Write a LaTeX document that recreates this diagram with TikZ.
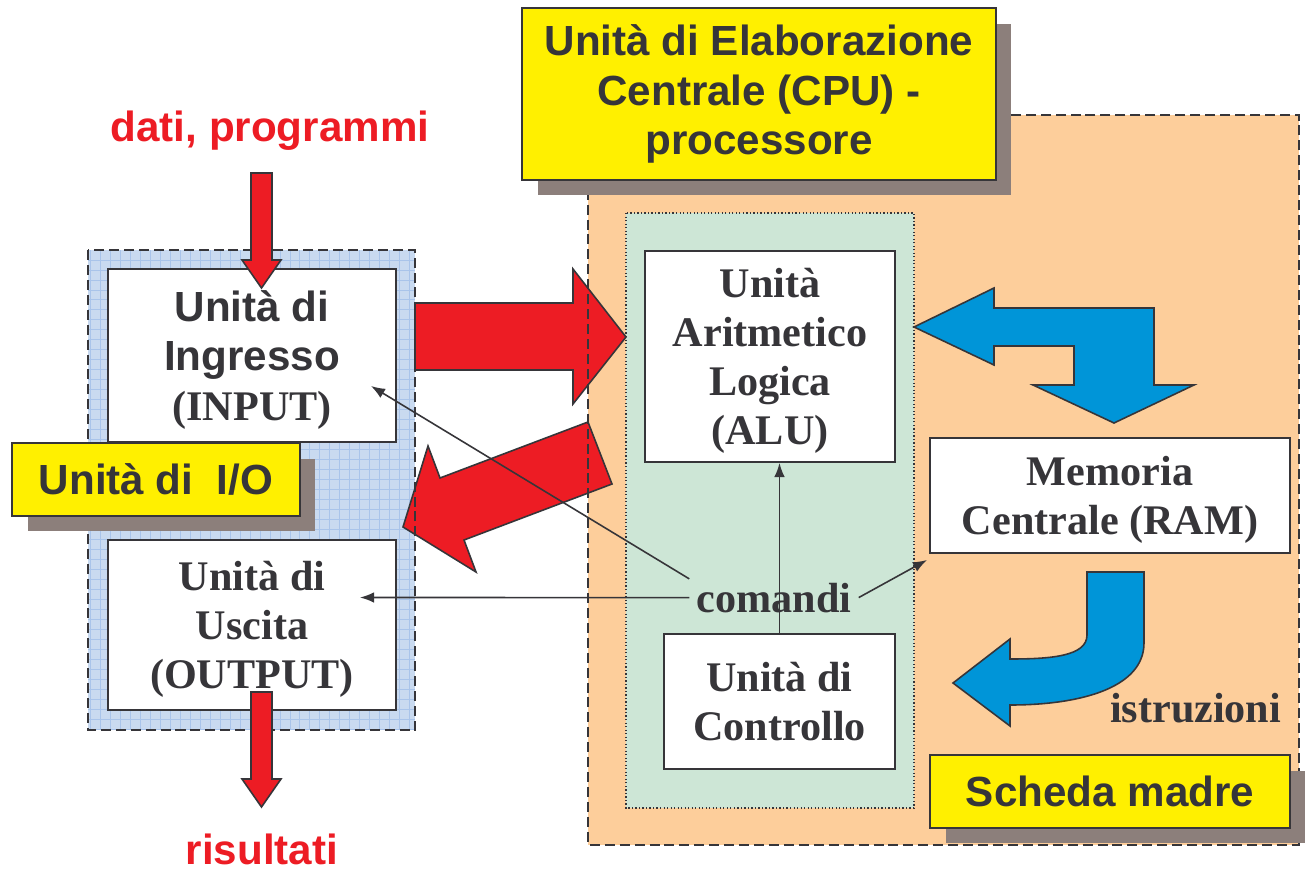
\documentclass[tikz,border=0pt]{standalone}
\usepackage{fontspec}
\setmainfont{Liberation Serif}
\setsansfont{Liberation Sans}
\usetikzlibrary{positioning,arrows.meta,shadows,calc}
\definecolor{cpuyellow}{HTML}{FFF000}
\definecolor{shadowgray}{HTML}{8C7F7B}
\definecolor{boardorange}{HTML}{FDCE9B}
\definecolor{cpugreen}{HTML}{CDE6D6}
\definecolor{iofill}{HTML}{C9DAF0}
\definecolor{iogridline}{HTML}{A9C4EA}
\definecolor{flowred}{HTML}{ED1C24}
\definecolor{flowblue}{HTML}{0095D8}
\definecolor{ink}{HTML}{363539}
\tikzstyle{unit}      = [rectangle, draw=ink, fill=white, line width=1.1pt, align=center,
                         text=ink, font=\fontsize{24}{28}\selectfont\bfseries, text depth=0pt]
\tikzstyle{tag}       = [rectangle, draw=ink, fill=cpuyellow, line width=1.1pt, align=center,
                         text=ink, font=\fontsize{24}{28}\selectfont\sffamily\bfseries,
                         drop shadow={shadow xshift=0.31cm, shadow yshift=-0.31cm, fill=shadowgray, opacity=1}]
\tikzstyle{bigarrow}  = [draw=ink, line width=0.9pt, line join=miter]
\tikzstyle{wire}      = [ink, line width=0.9pt, -{Latex[length=8pt,width=6pt]}]

\begin{document}
\begin{tikzpicture}[
			x=0.02cm, y=-0.02cm,
			redlabel/.style={text=flowred, font=\fontsize{24}{28}\selectfont\sffamily\bfseries},
			plainlabel/.style={text=ink, font=\fontsize{24}{28}\selectfont\bfseries, inner sep=2pt},
			zone/.style={ink, line width=1.4pt, dash pattern=on 5.7pt off 2.8pt},
			cpuzone/.style={ink, line width=1.2pt, dash pattern=on 0.7pt off 1.3pt}
		]
		\fill[white] (0,0) rectangle (1312,872);
		\useasboundingbox (0,0) rectangle (1312,872);

		\fill[iofill] (88,250) rectangle (415,730);
		\draw[iogridline, line width=0.5pt, step=0.2cm] (88,250) grid (415,730);
		\fill[boardorange] (588,115) rectangle (1299,845);
		\fill[cpugreen] (626,213) rectangle (914,808);

		\filldraw[bigarrow, fill=flowred] (415,303) -- (573,303) -- (573,269) -- (626,337)
			-- (573,404) -- (573,370) -- (415,370) -- cycle;
		\filldraw[bigarrow, fill=flowred] (588,422) -- (612,484) -- (464,540) -- (476,572)
			-- (403,527) -- (428,446) -- (440,478) -- cycle;
		\filldraw[bigarrow, fill=flowblue] (914,327) -- (994,288) -- (994,308) -- (1154,308)
			-- (1154,385) -- (1194,385) -- (1114,423) -- (1033,385) -- (1074,385)
			-- (1074,346) -- (994,346) -- (994,365) -- cycle;
		\filldraw[bigarrow, fill=flowblue] (1087,572) -- (1144,572) -- (1144,643)
			.. controls (1144,688) and (1080,705) .. (1010,705) -- (1010,726) -- (953,683)
			-- (1010,639) -- (1010,659) .. controls (1052,659) and (1087,656) .. (1087,635) -- cycle;

		\draw[zone] (88,250) rectangle (415,730);
		\draw[zone] (588,115) rectangle (1299,845);
		\draw[cpuzone] (626,213) rectangle (914,808);

		\node[tag, minimum width=9.48cm, minimum height=3.44cm] (cpulabel) at (759,94)
			{Unità di Elaborazione\\Centrale (CPU) -\\processore};
		\node[tag, minimum width=5.76cm, minimum height=1.46cm] (iolabel) at (156,479.5)
			{Unità di\ \ I/O};
		\node[tag, minimum width=7.2cm, minimum height=1.46cm] (boardlabel) at (1110,791.5)
			{Scheda madre};

		\node[unit, minimum width=5cm, minimum height=4.22cm] (alu) at (770,356.5)
			{Unità\\Aritmetico\\Logica\\(ALU)};
		\node[unit, minimum width=4.62cm, minimum height=2.7cm] (ctrl) at (779.5,701.5)
			{Unità di\\Controllo};
		\node[unit, minimum width=7.2cm, minimum height=2.3cm] (mem) at (1110,495.5)
			{Memoria\\Centrale (RAM)};
		\node[unit, minimum width=5.76cm, minimum height=3.46cm] (inbox) at (252,355.5)
			{{\sffamily Unità di}\\{\sffamily Ingresso}\\(INPUT)};
		\node[unit, minimum width=5.76cm, minimum height=3.4cm] (outbox) at (252,625)
			{Unità di\\Uscita\\(OUTPUT)};

		\filldraw[bigarrow, fill=flowred] (251,173) -- (272,173) -- (272,260) -- (281,260)
			-- (261.5,288) -- (242,260) -- (251,260) -- cycle;
		\filldraw[bigarrow, fill=flowred] (251,692) -- (272,692) -- (272,779) -- (281,779)
			-- (261.5,807) -- (242,779) -- (251,779) -- cycle;

		\node[redlabel, anchor=base] (datain) at (270,141) {dati, programmi};
		\node[redlabel, anchor=base] (results) at (262,864) {risultati};
		\node[plainlabel, anchor=base east] (instr) at (1285,722) {istruzioni};
		\node[plainlabel, inner xsep=4pt, anchor=base] (cmd) at (774,612) {comandi};

		\coordinate (inTip) at (371,386);
		\coordinate (outTip) at (360,597.5);
		\coordinate (memTip) at (927,560);
		\draw[wire] (cmd.north west) -- (inTip);
		\draw[wire] (cmd.west) -- (outTip);
		\draw[wire] (cmd.east) -- (memTip);
		\draw[wire] (ctrl.north) -- (ctrl.north |- alu.south);
	\end{tikzpicture}
\end{document}
